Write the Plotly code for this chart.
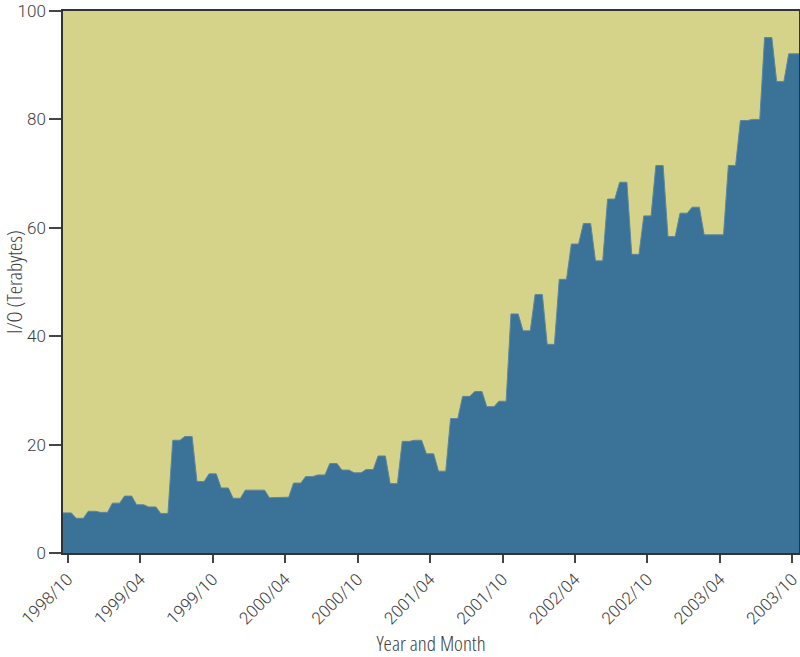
import plotly.graph_objects as go

# Monthly I/O totals, 1998/10 .. 2003/10 (61 months)
months = []
y, m = 1998, 10
for _ in range(61):
    months.append(f"{y}/{m:02d}")
    m += 1
    if m > 12:
        m = 1
        y += 1

io_tb = [
    7.4, 6.4, 7.7, 7.5, 9.2, 10.5, 8.9, 8.5, 7.3, 20.8,
    21.5, 13.2, 14.6, 12.0, 10.1, 11.6, 11.6, 10.2, 10.3, 12.9,
    14.1, 14.4, 16.5, 15.3, 14.8, 15.4, 17.9, 12.8, 20.6, 20.8,
    18.3, 15.1, 24.8, 28.9, 29.8, 27.0, 28.0, 44.1, 41.0, 47.7,
    38.5, 50.5, 57.0, 60.8, 53.9, 65.3, 68.4, 55.1, 62.2, 71.5,
    58.4, 62.7, 63.8, 58.7, 58.7, 71.5, 79.8, 80.0, 95.1, 87.0,
    92.1,
]

tick_idx = list(range(0, 61, 6))
tick_labels = [months[i] for i in tick_idx]

# each month drawn as a short plateau centred on its tick position
half = 0.3
xs, ys = [], []
n = len(io_tb)
for i, v in enumerate(io_tb):
    left = i - half if i > 0 else i - 0.6
    right = i + half if i < n - 1 else i + 0.7
    xs += [left, right]
    ys += [v, v]

tick_font = "Roboto, sans-serif"
title_font = "Open Sans, Roboto Condensed, sans-serif"
text_color = "#3c3c3c"

fig = go.Figure()
fig.add_trace(go.Scatter(
    x=xs, y=ys, mode="lines", fill="tozeroy",
    fillcolor="#3b7297", line=dict(color="#5d86a0", width=1),
    hoverinfo="skip", showlegend=False,
))

fig.update_layout(
    width=800, height=657,
    margin=dict(l=63, r=1, t=11, b=104),
    paper_bgcolor="white",
    plot_bgcolor="#d4d389",
    font=dict(family=tick_font, size=17, color=text_color, weight=300),
    xaxis=dict(
        range=[-0.39, 60.55], automargin=False,
        tickmode="array", tickvals=tick_idx, ticktext=tick_labels,
        tickangle=-45, ticks="outside", ticklen=8, tickcolor="#444", tickwidth=1.5,
        ticklabeloverflow="allow",
        showgrid=False, zeroline=False,
        showline=True, linecolor="#333", linewidth=1.5, mirror=True,
        tickfont=dict(family=tick_font, size=17, color=text_color, weight=300),
        title=dict(text="Year and Month",
                   font=dict(family=title_font, size=21, color=text_color, weight=300),
                   standoff=14),
    ),
    yaxis=dict(
        range=[0, 100], tickvals=[0, 20, 40, 60, 80, 100], automargin=False,
        ticks="outside", ticklen=12, tickcolor="#444", tickwidth=1.5,
        ticklabeloverflow="allow",
        showgrid=False, zeroline=False,
        showline=True, linecolor="#333", linewidth=1.5, mirror=True,
        tickfont=dict(family=tick_font, size=17, color=text_color, weight=300),
        title=dict(text="I/O (Terabytes)",
                   font=dict(family=title_font, size=21, color=text_color, weight=300),
                   standoff=2),
    ),
)

post = (
    "document.body.style.margin='0';"
    "var s=document.createElement('style');"
    "s.textContent='.g-xtitle text,.g-ytitle text{font-stretch:75%;}';"
    "document.head.appendChild(s);"
)
fig.write_html("out.html", post_script=post, config={"displayModeBar": False})
